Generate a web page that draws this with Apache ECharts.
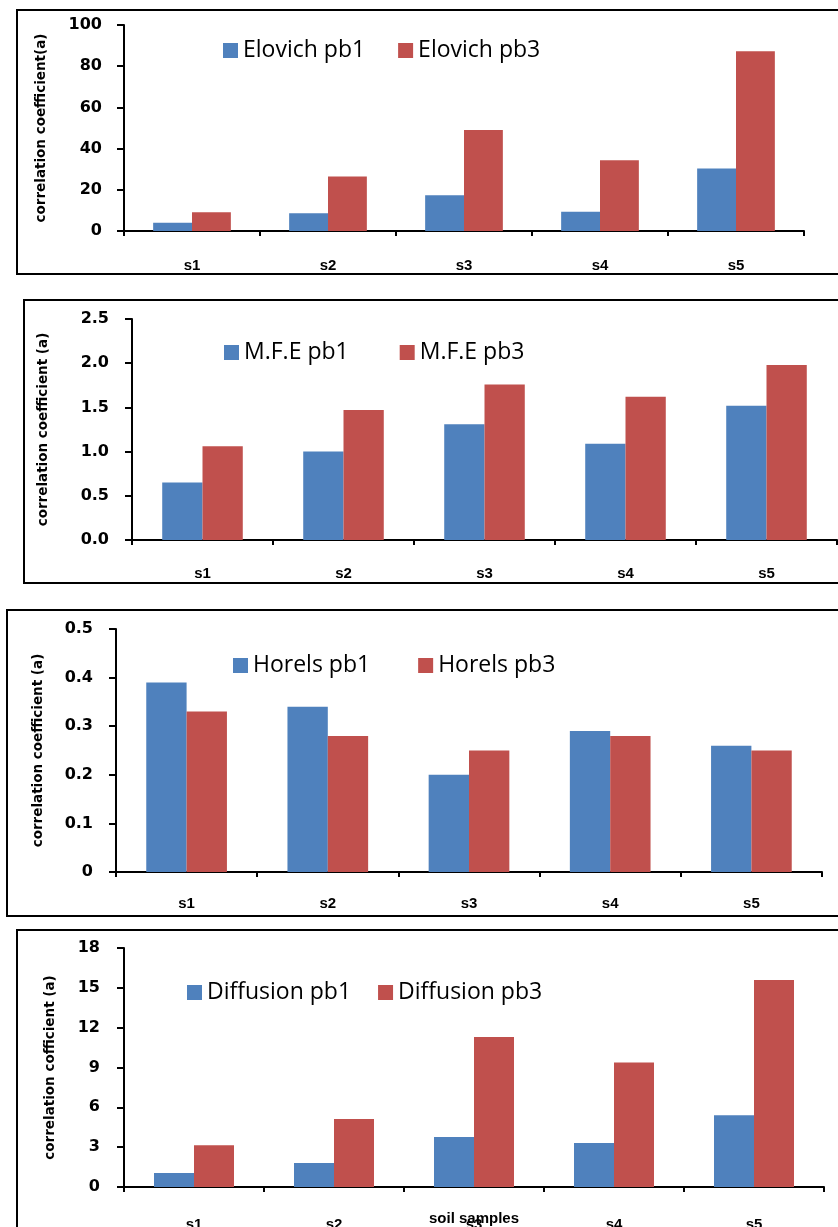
<!DOCTYPE html>
<html>
<head>
<meta charset="utf-8">
<script src="https://cdn.jsdelivr.net/npm/echarts@6/dist/echarts.min.js"></script>
<style>
html,body{margin:0;padding:0;background:#fff;}
#c{width:838px;height:1227px;}
</style>
</head>
<body>
<div id="c"></div>
<script>
// ---- data ----
const categories = ['s1', 's2', 's3', 's4', 's5'];

const elovichPb1 = [4.0, 8.6, 17.3, 9.4, 30.4];
const elovichPb3 = [9.1, 26.5, 49.0, 34.3, 87.2];
const elovichTicks = [0, 20, 40, 60, 80, 100];

const mfePb1 = [0.65, 1.00, 1.31, 1.09, 1.52];
const mfePb3 = [1.06, 1.47, 1.76, 1.62, 1.98];
const mfeTicks = [0, 0.5, 1.0, 1.5, 2.0, 2.5];

const horelsPb1 = [0.39, 0.34, 0.20, 0.29, 0.26];
const horelsPb3 = [0.33, 0.28, 0.25, 0.28, 0.25];
const horelsTicks = [0, 0.1, 0.2, 0.3, 0.4, 0.5];

const diffusionPb1 = [1.06, 1.81, 3.77, 3.32, 5.40];
const diffusionPb3 = [3.14, 5.13, 11.29, 9.38, 15.59];
const diffusionTicks = [0, 3, 6, 9, 12, 15, 18];

const BLUE = '#4F81BD';
const RED = '#C0504D';

const panels = [
  { names: ['Elovich pb1', 'Elovich pb3'], d1: elovichPb1, d3: elovichPb3, ticks: elovichTicks,
    yName: 'correlation coefficient(a)', fmt: v => String(v),
    grid: { left: 124, top: 25, width: 680, height: 206 }, nameGap: 76, labelMargin: 22, xMargin: 27,
    legend: { left: 223, top: 39, itemGap: 33 },
    box: { x: 17, y: 10, h: 264 } },
  { names: ['M.F.E pb1', 'M.F.E pb3'], d1: mfePb1, d3: mfePb3, ticks: mfeTicks,
    yName: 'correlation coefficient (a)', fmt: v => v.toFixed(1),
    grid: { left: 132, top: 319, width: 705, height: 221 }, nameGap: 82, labelMargin: 23, xMargin: 26,
    legend: { left: 224, top: 341, itemGap: 51 },
    box: { x: 24, y: 300, h: 283 } },
  { names: ['Horels pb1', 'Horels pb3'], d1: horelsPb1, d3: horelsPb3, ticks: horelsTicks,
    yName: 'correlation coefficient (a)', fmt: v => (v === 0 ? '0' : v.toFixed(1)),
    grid: { left: 116, top: 629, width: 706, height: 243 }, nameGap: 71, labelMargin: 23, xMargin: 24,
    legend: { left: 233, top: 654, itemGap: 48 },
    box: { x: 7, y: 610, h: 306 } },
  { names: ['Diffusion pb1', 'Diffusion pb3'], d1: diffusionPb1, d3: diffusionPb3, ticks: diffusionTicks,
    yName: 'correlation cofficient (a)', fmt: v => String(v),
    grid: { left: 124, top: 948, width: 700, height: 239 }, nameGap: 67, labelMargin: 24, xMargin: 30,
    legend: { left: 187, top: 981, itemGap: 27 },
    box: { x: 17, y: 930, h: 400 },
    xName: 'soil samples' }
];

const grids = [], xAxes = [], yAxes = [], series = [], legends = [], graphics = [];

panels.forEach((p, i) => {
  grids.push(Object.assign({ containLabel: false, outerBoundsMode: 'none' }, p.grid));
  xAxes.push({
    type: 'category', gridIndex: i, data: categories,
    axisLine: { lineStyle: { color: '#000', width: 2 } },
    axisTick: { show: true, length: 5, lineStyle: { color: '#000', width: 2 } },
    axisLabel: { color: '#000', fontFamily: 'Liberation Sans', fontWeight: 'bold', fontSize: 15, margin: p.xMargin },
    name: p.xName || '', nameLocation: 'middle', nameGap: 24, nameMoveOverlap: false,
    nameTextStyle: { color: '#000', fontFamily: 'Liberation Sans', fontWeight: 'bold', fontSize: 15 },
    splitLine: { show: false }
  });
  const t = p.ticks;
  yAxes.push({
    type: 'value', gridIndex: i,
    min: t[0], max: t[t.length - 1], interval: t[1] - t[0],
    axisLine: { show: true, lineStyle: { color: '#000', width: 2 } },
    axisTick: { show: true, length: 7, lineStyle: { color: '#000', width: 2 } },
    axisLabel: { color: '#000', fontFamily: 'DejaVu Sans', fontWeight: 'bold', fontSize: 16, margin: p.labelMargin, formatter: p.fmt },
    splitLine: { show: false },
    name: p.yName, nameLocation: 'middle', nameGap: p.nameGap, nameMoveOverlap: false,
    nameTextStyle: { color: '#000', fontFamily: 'DejaVu Sans', fontWeight: 'bold', fontSize: 13.5 }
  });
  series.push({
    type: 'bar', name: p.names[0], xAxisIndex: i, yAxisIndex: i, data: p.d1,
    itemStyle: { color: BLUE }, barGap: '0%', barCategoryGap: '42.86%'
  });
  series.push({
    type: 'bar', name: p.names[1], xAxisIndex: i, yAxisIndex: i, data: p.d3,
    itemStyle: { color: RED }, barGap: '0%', barCategoryGap: '42.86%'
  });
  legends.push({
    data: p.names, left: p.legend.left, top: p.legend.top, itemGap: p.legend.itemGap,
    orient: 'horizontal', padding: 0, icon: 'rect', itemWidth: 15, itemHeight: 15,
    textStyle: { color: '#000', fontFamily: 'Open Sans', fontSize: 23 }
  });
  graphics.push({
    type: 'rect', z: 100, silent: true,
    shape: { x: p.box.x, y: p.box.y, width: 900, height: p.box.h },
    style: { fill: 'none', stroke: '#000', lineWidth: 2 }
  });
});

const chart = echarts.init(document.getElementById('c'), null, { renderer: 'canvas' });
chart.setOption({
  animation: false,
  backgroundColor: '#fff',
  grid: grids,
  xAxis: xAxes,
  yAxis: yAxes,
  series: series,
  legend: legends,
  graphic: graphics
});
</script>
</body>
</html>
